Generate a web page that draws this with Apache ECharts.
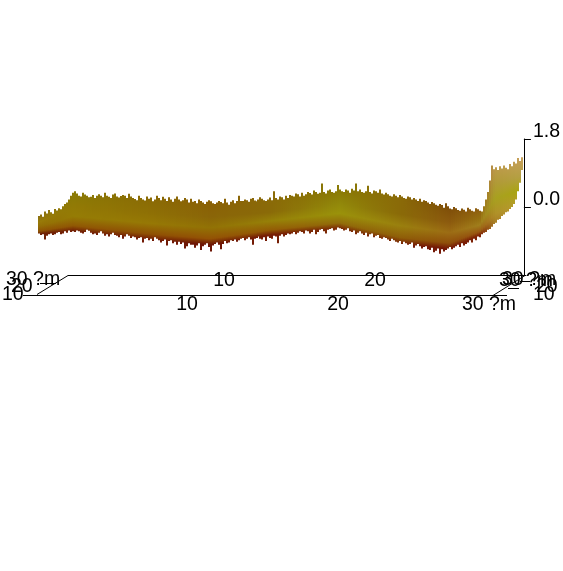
<!DOCTYPE html>
<html><head><meta charset="utf-8">
<style>html,body{margin:0;padding:0;background:#fff}#c{width:563px;height:571px}</style>
<script src="https://cdn.jsdelivr.net/npm/echarts@6/dist/echarts.min.js"></script>
</head><body><div id="c"></div>
<script>
// Surface silhouette: height (z axis units) of the back and front edges, read column by column
const topEdge = [-.24,-.2,-.26,-.12,-.17,-.08,-.14,-.18,-.05,-.09,-.03,-.06,
 .02,.08,.12,.2,.3,.38,
 .42,.36,.3,.28,.38,.33,.3,.26,.27,.32,.24,.3,.34,.3,.26,.38,.3,.27,.24,.33,.36,.28,.25,.29,.32,.3,.24,.35,.28,
 .24,.21,.18,.3,.24,.2,.17,.28,.22,.25,.15,.2,.3,.24,.18,.27,.22,.16,.26,.2,.14,.22,.28,.2,.15,.18,.24,.2,.12,.22,
 .14,.16,.1,.2,.16,.12,.08,.14,.18,.15,.1,.08,.12,.16,.13,.1,.22,.12,.06,.14,.18,.1,.16,.3,.16,
 .16,.2,.18,.14,.22,.24,.17,.15,.2,.26,.22,.18,.16,.2,.25,.18,.42,.24,.2,.28,.26,.2,.3,.24,.32,
 .3,.28,.36,.34,.28,.38,.3,.34,.4,.37,.33,.44,.4,.35,.38,.62,.4,.36,.44,.46,.4,.38,.42,.58,.46,
 .42,.4,.46,.44,.38,.48,.44,.62,.42,.46,.4,.38,.42,.56,.4,.36,.44,.42,.38,.46,
 .36,.33,.38,.34,.3,.28,.34,.3,.26,.32,.28,.24,.22,.28,.26,.2,.24,.2,.16,.22,.14,.18,.16,.12,.08,.13,.1,.06,.03,.08,
 .05,-.02,.1,.02,-.04,-.06,0,-.03,-.08,-.1,-.04,-.07,-.12,-.02,-.06,-.1,-.12,-.03,-.06,-.1,-.12,
 .02,.2,.4,.7,1.1,
 1.0,1.05,.98,1.08,1.02,1.1,1.04,1.0,1.14,1.08,1.2,1.15,1.3,1.22,1.32,1.3];
const bottomEdge = [-.7,-.74,-.72,-.86,-.76,-.72,-.7,-.74,-.72,-.68,-.66,-.72,-.7,-.64,-.68,-.62,-.66,-.64,
 -.66,-.62,-.64,-.68,-.7,-.66,-.6,-.63,-.68,-.72,-.7,-.74,-.68,-.64,-.7,-.76,-.72,-.78,-.72,-.68,-.74,-.76,-.8,-.74,-.84,-.78,-.72,-.76,-.82,
 -.78,-.8,-.86,-.82,-.8,-.94,-.84,-.82,-.88,-.84,-.9,-.8,-.84,-.88,-.94,-.9,-.86,-1.02,-.9,-.88,-.96,-.92,-1.0,-.92,-.98,-.94,-1.1,-1.04,-.96,-1.0,
 -1.0,-1.08,-1.02,-.96,-1.14,-1.04,-1.0,-.96,-1.06,-1.18,-1.02,-.98,-.94,-1.0,-1.12,-.98,-.9,-.96,-.94,-.88,-.9,-.86,-.92,-.88,-.84,
 -.82,-.88,-.84,-.8,-.86,-1.0,-.84,-.82,-.78,-.84,-.86,-.8,-.9,-.78,-.82,-.84,-.76,-.78,-.96,-.76,-.72,-.78,-.74,-.7,-.72,
 -.7,-.66,-.72,-.68,-.64,-.66,-.7,-.62,-.64,-.7,-.66,-.6,-.72,-.66,-.6,-.58,-.64,-.7,-.6,-.58,-.56,-.62,-.6,-.54,-.56,
 -.58,-.62,-.6,-.56,-.64,-.66,-.62,-.72,-.68,-.64,-.7,-.74,-.68,-.78,-.72,-.7,-.8,-.76,-.74,-.82,
 -.84,-.8,-.82,-.86,-.9,-.84,-.88,-.92,-.94,-.9,-.98,-.92,-.96,-1.0,-.98,-.94,-1.08,-1.02,-.98,-1.04,-1.1,-1.06,-1.04,-1.12,-1.14,-1.08,-1.2,-1.16,-1.1,-1.24,
 -1.12,-1.18,-1.14,-1.1,-1.06,-1.12,-1.08,-1.04,-1.0,-1.06,-.96,-1.02,-.98,-.94,-.88,-.94,-.84,-.88,-.78,-.8,-.72,
 -.68,-.66,-.6,-.58,-.52,
 -.45,-.42,-.34,-.32,-.24,-.2,-.14,-.12,-.05,0,.08,.2,.42,.64,.98,1.3];
// Colour key sections along the projected x axis (um)
const keyPos = [.13,2.38,7.55,11.5,15.5,20.1,24.1,27.4,29.4,30.4,32.25];
const keyTop = [-.24,.34,.21,.13,.18,.42,.24,-.03,-.08,1.16,1.32];
const keyBottom = [-.71,-.63,-.87,-1,-.74,-.56,-.98,-1.11,-.74,-.4,-.1];
const keyColors = [
 ['#8a7010','#987a08','#936c05','#8f5204','#6e2205'],
 ['#8a7a05','#927a05','#957c05','#905804','#721e05'],
 ['#8a6a05','#8f7005','#967805','#8f5004','#721a05'],
 ['#8a6005','#8a6508','#927205','#935205','#6c1505'],
 ['#8a6a08','#8a6a08','#968008','#935c05','#761d05'],
 ['#8a7a05','#92890a','#9a920a','#926c0a','#7c2c05'],
 ['#8a6a08','#8a6a08','#9a800e','#8f5e08','#761d05'],
 ['#7f4e08','#8c5a0e','#9c6c14','#8f4e0a','#721505'],
 ['#8f5f10','#967010','#a07e1c','#9a5812','#802505'],
 ['#bf9a50','#b09a35','#a8a020','#b09028','#a88025'],
 ['#c8a05a','#b5a045','#aaa510','#b8a030','#b89030']];
const keyStops = [0,.35,.6,.86,1];
const zTicks = [0,1.8];
const frontTicks = [10,20,30];
const depthLabels = ['30 ?m','20','10'];
const unit = ' ?m';

const COL_UM = 2/15.1, START_UM = 2/15.1;
const positions = topEdge.map((_, i) => START_UM + i*COL_UM);
const hex = c => [1,3,5].map(k => parseInt(c.substr(k,2),16));
const mix = (a,b,t) => { const A=hex(a),B=hex(b); return 'rgb('+A.map((v,i)=>Math.round(v+(B[i]-v)*t)).join(',')+')'; };
function section(x){
  let k=0; while(k<keyPos.length-2 && x>keyPos[k+1]) k++;
  const t=Math.max(0,Math.min(1,(x-keyPos[k])/(keyPos[k+1]-keyPos[k])));
  return {k,t};
}
const FS = 19.5;
const font = {color:'#000',fontFamily:'Liberation Sans',fontSize:FS};
const lineStyle = {stroke:'#000',lineWidth:1};
const seg = (x1,y1,x2,y2)=>({type:'line',silent:true,shape:{x1,y1,x2,y2},style:lineStyle});
const txt = (t,x,y)=>({type:'text',silent:true,style:{text:t,x,y,fill:'#000',font:FS+'px "Liberation Sans"',textBaseline:'top'}});

const chart = echarts.init(document.getElementById('c'),null,{renderer:'canvas'});
const fmtFront = v => v===30 ? '30'+unit : (v===0?'':String(v));
const xHidden = {type:'value',gridIndex:0,min:0,max:489/15.1,show:false};
const xTick = (g,margin)=>({type:'value',gridIndex:g,min:0,max:30,interval:10,position:'bottom',
  axisLine:{show:true,onZero:false,lineStyle:{color:'#000',width:1}},axisTick:{show:false},splitLine:{show:false},
  axisLabel:{...font,margin,formatter:fmtFront,showMinLabel:false,hideOverlap:false}});
chart.setOption({
  animation:false,backgroundColor:'#fff',
  grid:[
    {left:36,width:489,top:139,height:136},
    {left:36,width:453,top:290,height:5},
    {left:73,width:453,top:270,height:5}
  ],
  xAxis:[xHidden,xTick(1,0),xTick(2,-4)],
  yAxis:[
    {type:'value',gridIndex:0,position:'right',min:-1.8,max:1.8,interval:1.8,
     axisLine:{show:true,onZero:false,lineStyle:{color:'#000',width:1}},
     axisTick:{show:true,length:7,customValues:zTicks,lineStyle:{color:'#000',width:1}},
     splitLine:{show:false},
     axisLabel:{...font,margin:9,verticalAlign:'bottom',lineHeight:15,customValues:zTicks,formatter:v=>v.toFixed(1)}},
    {type:'value',gridIndex:1,min:0,max:1,show:false},
    {type:'value',gridIndex:2,min:0,max:1,show:false}
  ],
  series:[{
    type:'custom',xAxisIndex:0,yAxisIndex:0,clip:false,silent:true,
    data:positions.map((x,i)=>[x,topEdge[i],bottomEdge[i]]),
    encode:{x:0,y:[1,2]},
    renderItem(params,api){
      const x=api.value(0),{k,t}=section(x);
      const p0=api.coord([x,api.value(1)]),p1=api.coord([x,api.value(2)]);
      const lerp=(a)=>a[k]+(a[k+1]-a[k])*t;
      const g0=api.coord([x,lerp(keyTop)])[1],g1=api.coord([x,lerp(keyBottom)])[1];
      const stops=keyStops.map((o,j)=>({offset:o,color:mix(keyColors[k][j],keyColors[k+1][j],t)}));
      const px=Math.round(p0[0]);
      return {type:'rect',shape:{x:px,y:Math.min(p0[1],p1[1]),width:2,height:Math.abs(p1[1]-p0[1])},
        style:{fill:new echarts.graphic.LinearGradient(0,g0,0,g1,stops,true)}};
    }
  }],
  graphic:{elements:[
    seg(68,275.5,73,275.5),seg(68,275.5,37,294.5),seg(23,295.5,36,295.5),seg(40,283.5,56,283.5),
    seg(489,295.5,507,295.5),seg(493,295.5,525,275.5),seg(508,288.5,519,288.5),seg(520,281.5,530,281.5),
    txt(depthLabels[0],6,270),txt(depthLabels[1],11,277),txt(depthLabels[2],2,285),
    txt(depthLabels[0],502,270),txt(depthLabels[1],536,277),txt(depthLabels[2],533,285)
  ]}
});
</script></body></html>
